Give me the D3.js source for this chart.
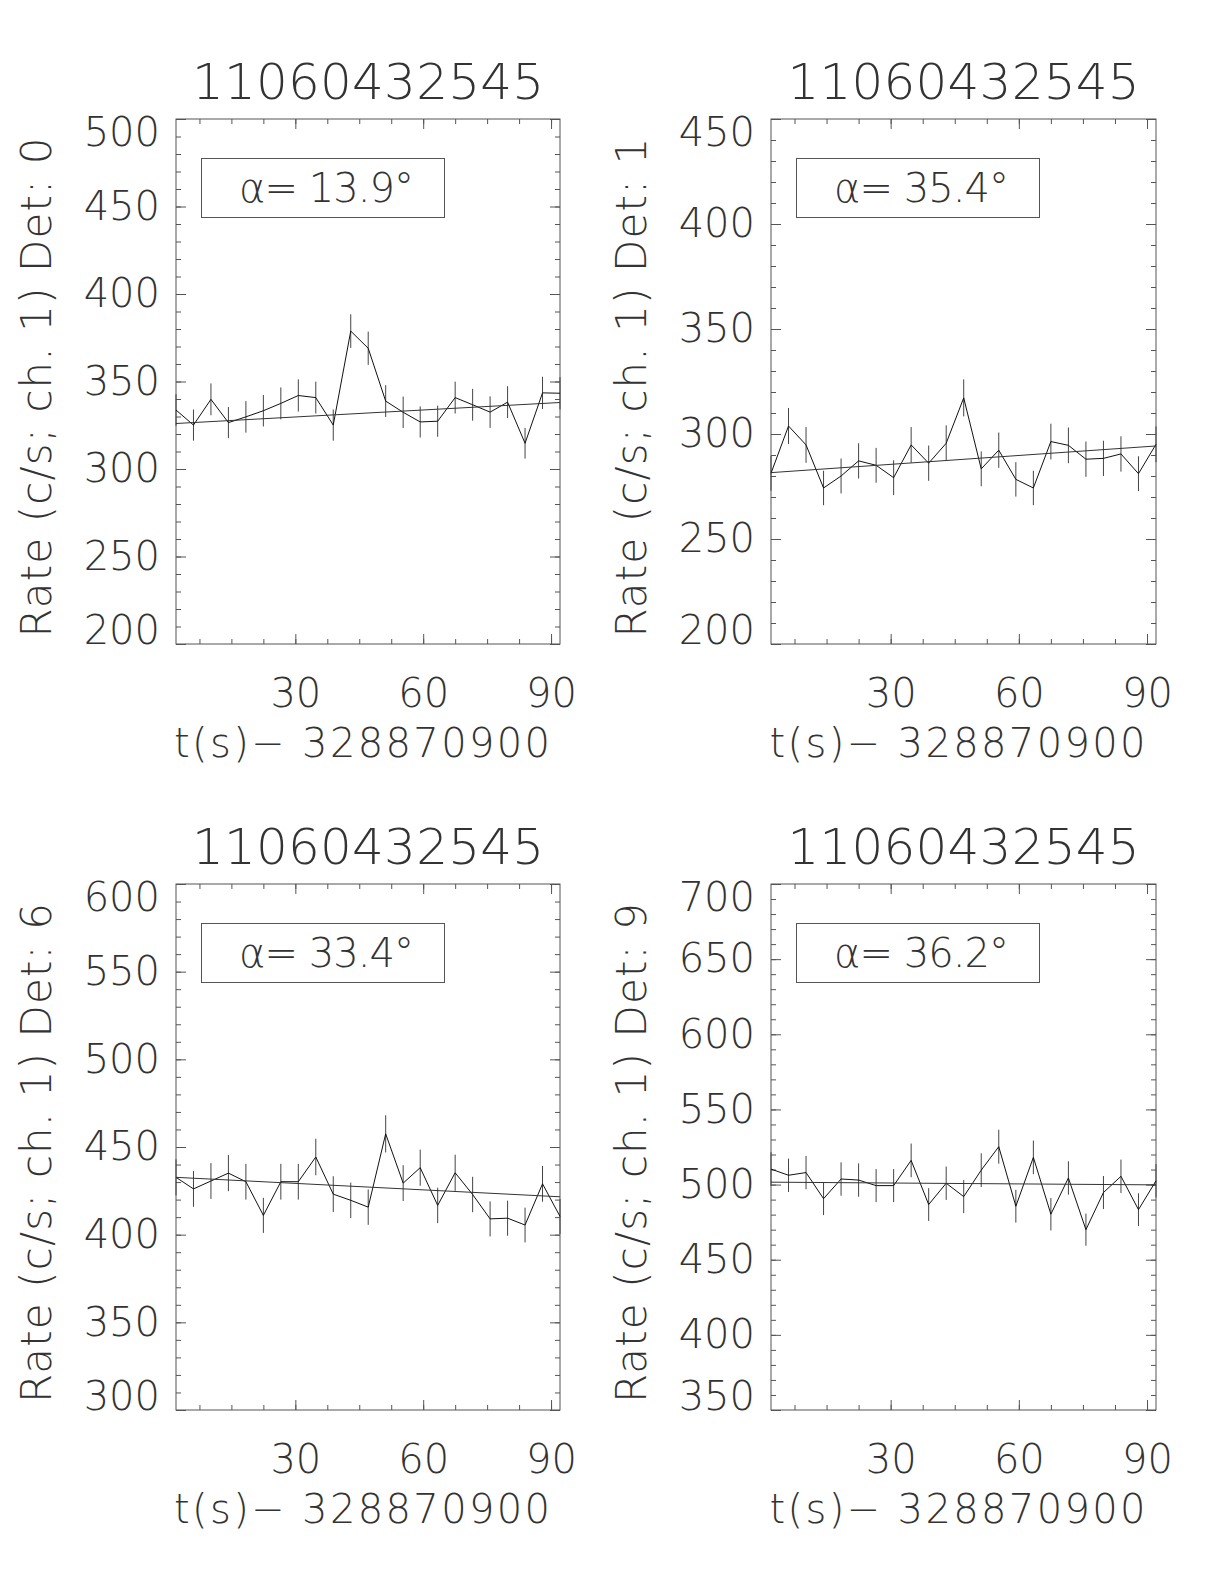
<!DOCTYPE html>
<html>
<head>
<meta charset="utf-8">
<script src="https://cdn.jsdelivr.net/npm/d3@7"></script>
<style>
body{margin:0;background:#fff;}
svg text{font-family:"DejaVu Sans",sans-serif;font-weight:200;fill:#333;}
.axis path.domain{display:none;}
.axis line{stroke:#555;stroke-width:1;}
</style>
</head>
<body>
<svg id="myGraph" width="1224" height="1584"></svg>
<script>
// 데이터
var obsId = "11060432545";
var tOffset = "328870900";
var time = [2.0, 6.1, 10.2, 14.3, 18.4, 22.5, 26.6, 30.7, 34.8, 38.9, 43.0, 47.1,
            51.2, 55.3, 59.3, 63.4, 67.5, 71.6, 75.7, 79.8, 83.9, 88.0, 92.1];
var xTicks = [30, 60, 90];

var det0 = [333.7, 325.1, 339.8, 326.5, 329.8, 333.3, 337.5, 342.0, 340.8, 325.1, 378.8, 369.0,
            338.8, 332.4, 326.9, 327.3, 340.8, 336.7, 332.5, 338.2, 314.7, 343.5, 343.3];
var err0 = [9.0, 8.9, 9.1, 8.9, 9.0, 9.0, 9.1, 9.2, 9.1, 8.9, 9.6, 9.5,
            9.1, 9.0, 8.9, 8.9, 9.1, 9.1, 9.0, 9.1, 8.8, 9.2, 9.2];
var fit0 = [326, 338];

var det1 = [281.3, 303.8, 294.8, 274.3, 280.0, 287.2, 285.1, 279.2, 294.8, 286.1, 295.6, 317.2,
            283.4, 292.3, 278.4, 274.3, 296.4, 294.6, 288.0, 288.4, 290.5, 281.1, 295.1];
var err1 = [8.3, 8.6, 8.5, 8.2, 8.3, 8.4, 8.3, 8.3, 8.5, 8.4, 8.5, 8.8,
            8.3, 8.4, 8.2, 8.2, 8.5, 8.5, 8.4, 8.4, 8.4, 8.3, 8.5];
var fit1 = [281.6, 294.3];

var det6 = [432.7, 426.1, 430.6, 435.1, 430.2, 411.0, 430.2, 430.2, 444.3, 423.1, 419.6, 415.7,
            457.5, 429.4, 438.2, 416.7, 435.3, 422.9, 409.0, 409.4, 405.5, 429.0, 410.4];
var err6 = [10.3, 10.2, 10.2, 10.3, 10.2, 10.0, 10.2, 10.2, 10.4, 10.2, 10.1, 10.1,
            10.6, 10.2, 10.3, 10.1, 10.3, 10.1, 10.0, 10.0, 9.9, 10.2, 10.0];
var fit6 = [432.7, 421.6];

var det9 = [510.3, 506.2, 508.0, 490.6, 503.7, 503.0, 499.3, 499.3, 516.1, 486.7, 500.9, 492.0,
            509.6, 525.2, 485.6, 518.1, 480.3, 504.4, 470.0, 494.7, 505.5, 483.3, 502.5];
var err9 = [11.2, 11.1, 11.1, 10.9, 11.1, 11.1, 11.0, 11.0, 11.2, 10.9, 11.1, 11.0,
            11.2, 11.3, 10.9, 11.2, 10.8, 11.1, 10.7, 11.0, 11.1, 10.9, 11.1];
var fit9 = [501.6, 499.8];

var yTicks0 = [200, 250, 300, 350, 400, 450, 500];
var yTicks1 = [200, 250, 300, 350, 400, 450];
var yTicks6 = [300, 350, 400, 450, 500, 550, 600];
var yTicks9 = [350, 400, 450, 500, 550, 600, 650, 700];

var detNames = ["0", "1", "6", "9"];
var alphas = ["13.9", "35.4", "33.4", "36.2"];

window.addEventListener("load", function(){
var boxes = [
	{left:176, top:119, w:384, h:525},
	{left:771, top:119, w:385, h:525},
	{left:176, top:884, w:384, h:526},
	{left:771, top:884, w:385, h:526}
];
drawPanel(boxes[0], det0, err0, fit0, yTicks0, detNames[0], alphas[0]);
drawPanel(boxes[1], det1, err1, fit1, yTicks1, detNames[1], alphas[1]);
drawPanel(boxes[2], det6, err6, fit6, yTicks6, detNames[2], alphas[2]);
drawPanel(boxes[3], det9, err9, fit9, yTicks9, detNames[3], alphas[3]);

function drawPanel(box, rate, err, fit, yTicks, det, alpha){
	var g = d3.select("#myGraph").append("g")
		.attr("transform", "translate("+box.left+","+box.top+")");

	var x = d3.scaleLinear().domain(d3.extent(time)).range([0, box.w]);
	var y = d3.scaleLinear().domain(d3.extent(yTicks)).range([box.h, 0]);

	// 작은 눈금
	var xMinor = d3.range(7.5, x.domain()[1], 7.5);
	var yMinor = d3.range(y.domain()[0], y.domain()[1] + 1, 10);

	g.append("g").attr("class", "axis").attr("transform", "translate(0,"+box.h+")")
		.call(d3.axisBottom(x).tickValues(xMinor).tickSize(-5).tickSizeOuter(0).tickFormat(""));
	g.append("g").attr("class", "axis")
		.call(d3.axisTop(x).tickValues(xMinor).tickSize(-5).tickSizeOuter(0).tickFormat(""));
	g.append("g").attr("class", "axis")
		.call(d3.axisLeft(y).tickValues(yMinor).tickSize(-5).tickSizeOuter(0).tickFormat(""));
	g.append("g").attr("class", "axis").attr("transform", "translate("+box.w+",0)")
		.call(d3.axisRight(y).tickValues(yMinor).tickSize(-5).tickSizeOuter(0).tickFormat(""));

	// 큰 눈금 + 라벨
	g.append("g").attr("class", "axis xlab").attr("transform", "translate(0,"+box.h+")")
		.call(d3.axisBottom(x).tickValues(xTicks).tickSize(-10).tickSizeOuter(0).tickPadding(35).tickFormat(d3.format("d")))
		.selectAll("text").style("font-size", "40px");
	g.append("g").attr("class", "axis")
		.call(d3.axisTop(x).tickValues(xTicks).tickSize(-10).tickSizeOuter(0).tickFormat(""));
	var yMin = d3.min(yTicks), yMax = d3.max(yTicks);
	g.append("g").attr("class", "axis ylab")
		.call(d3.axisLeft(y).tickValues(yTicks).tickSize(-10).tickSizeOuter(0).tickPadding(16).tickFormat(d3.format("d")))
		.selectAll("text").style("font-size", "40px")
		.attr("y", function(d){ return d === yMax ? 14 : (d === yMin ? -13 : 0); });
	g.append("g").attr("class", "axis").attr("transform", "translate("+box.w+",0)")
		.call(d3.axisRight(y).tickValues(yTicks).tickSize(-10).tickSizeOuter(0).tickFormat(""));

	// 테두리
	g.append("rect").attr("width", box.w).attr("height", box.h)
		.attr("fill", "none").attr("stroke", "#555").attr("stroke-width", 1);

	// 오차 막대
	g.selectAll(".err").data(rate).enter().append("line")
		.attr("class", "err")
		.attr("x1", function(d,i){ return x(time[i]); })
		.attr("x2", function(d,i){ return x(time[i]); })
		.attr("y1", function(d,i){ return y(d - err[i]); })
		.attr("y2", function(d,i){ return y(d + err[i]); })
		.attr("stroke", "#444").attr("stroke-width", 1);

	// 꺾은선
	var line = d3.line()
		.x(function(d,i){ return x(time[i]); })
		.y(function(d){ return y(d); });
	g.append("path").attr("d", line(rate))
		.attr("fill", "none").attr("stroke", "#111").attr("stroke-width", 1);

	// 직선 맞춤
	g.append("line")
		.attr("x1", x(time[0])).attr("y1", y(fit[0]))
		.attr("x2", x(time[time.length-1])).attr("y2", y(fit[1]))
		.attr("stroke", "#333").attr("stroke-width", 1);

	// alpha 상자
	g.append("rect").attr("x", 25.5).attr("y", 39.5).attr("width", 243).attr("height", 59)
		.attr("fill", "none").attr("stroke", "#555").attr("stroke-width", 1);
	g.append("text").attr("x", 63).attr("y", 83)
		.style("font-size", "40px").attr("textLength", 175).attr("lengthAdjust", "spacing")
		.text("\u03b1= " + alpha + "\u00b0");

	// 제목
	g.append("text").attr("x", box.w/2).attr("y", -20)
		.attr("text-anchor", "middle").style("font-size", "50px")
		.attr("textLength", 352).attr("lengthAdjust", "spacing")
		.text(obsId);
	g.append("text").attr("x", box.w/2 - 6).attr("y", box.h + 113)
		.attr("text-anchor", "middle").style("font-size", "40px")
		.attr("textLength", 376).attr("lengthAdjust", "spacing")
		.text("t(s)\u2212 " + tOffset);
	g.append("text")
		.attr("transform", "translate(-125,"+(box.h/2 + 6)+") rotate(-90)")
		.attr("text-anchor", "middle").style("font-size", "42px")
		.attr("textLength", 500).attr("lengthAdjust", "spacing")
		.text("Rate (c/s; ch. 1) Det: " + det);
}
});
</script>
</body>
</html>
